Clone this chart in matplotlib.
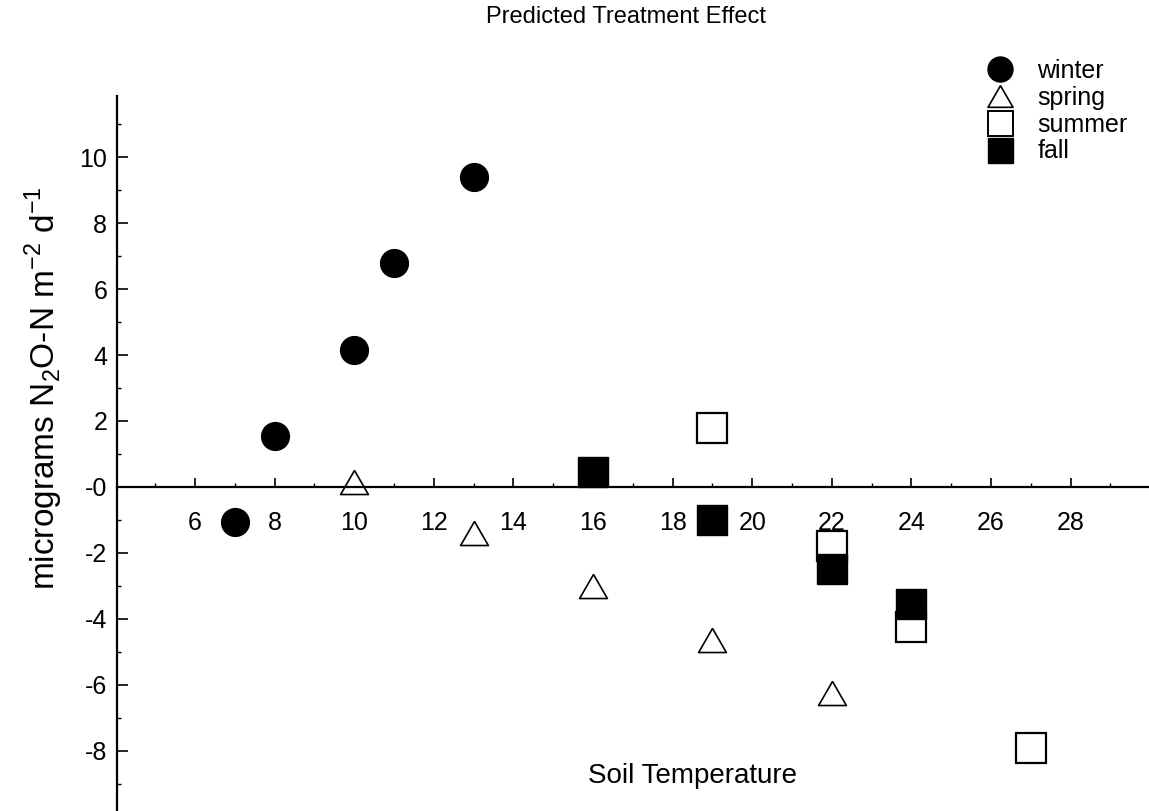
# predicted treatment effect vs soil temperature, by season

import matplotlib.pyplot as plt
from matplotlib.lines import Line2D
from matplotlib.ticker import MultipleLocator

plt.rcParams['font.family'] = ['Liberation Sans', 'DejaVu Sans']

# Values
winter_temp = [7, 8, 10, 11, 13]
winter_effect = [-1.05, 1.55, 4.15, 6.8, 9.4]

spring_temp = [10, 13, 16, 19, 22]
spring_effect = [0.15, -1.4, -3.0, -4.65, -6.25]

summer_temp = [19, 22, 24, 27]
summer_effect = [1.8, -1.8, -4.25, -7.9]

fall_temp = [16, 19, 22, 24]
fall_effect = [0.45, -1.0, -2.5, -3.55]

x_ticks = [6, 8, 10, 12, 14, 16, 18, 20, 22, 24, 26, 28]
y_ticks = [-8, -6, -4, -2, 0, 2, 4, 6, 8, 10]
y_tick_labels = ['-8', '-6', '-4', '-2', '-0', '2', '4', '6', '8', '10']

W, H = 1149, 811
fig = plt.figure(figsize=(W / 100, H / 100), dpi=100)
ax = fig.add_axes([117 / W, 0, 1 - 117 / W, 1 - 96 / H])

# open triangle, a bit flatter than matplotlib's default
tri = [(0, 0.866), (-1, -0.866), (1, -0.866), (0, 0.866)]

ax.plot(winter_temp, winter_effect, 'o', ms=20, color='black', label='winter')
ax.plot(spring_temp, spring_effect, marker=tri, ls='none', ms=20,
        mfc='white', mec='black', mew=1.2, label='spring')
ax.plot(summer_temp, summer_effect, 's', ms=21, mfc='white', mec='black',
        mew=1.6, label='summer')
ax.plot(fall_temp, fall_effect, 's', ms=21, color='black', label='fall')

ax.set_xlim(4.04, 29.97)
ax.set_ylim(-9.82, 11.85)

ax.spines['top'].set_visible(False)
ax.spines['right'].set_visible(False)
ax.spines['bottom'].set_position(('data', 0))
ax.spines['left'].set_linewidth(1.6)
ax.spines['bottom'].set_linewidth(1.6)

ax.set_xticks(x_ticks)
ax.xaxis.set_minor_locator(MultipleLocator(1))
ax.set_yticks(y_ticks)
ax.set_yticklabels(y_tick_labels)
ax.yaxis.set_minor_locator(MultipleLocator(1))

ax.tick_params(axis='x', which='major', direction='in', length=6.5, width=1.2,
               labelsize=18, pad=17)
ax.tick_params(axis='x', which='minor', direction='in', length=3, width=1)
ax.tick_params(axis='y', which='major', direction='in', length=8, width=1.2,
               labelsize=18, pad=7)
ax.tick_params(axis='y', which='minor', direction='in', length=3, width=1)

fig.text(626 / W, 1 - 17 / H, 'Predicted Treatment Effect', fontsize=17,
         ha='center', va='center')
fig.text(692 / W, 1 - 776 / H, 'Soil Temperature', fontsize=20,
         ha='center', va='center')
fig.text(44 / W, 1 - 388 / H,
         r'micrograms N$_\mathregular{2}$O-N m$^\mathregular{-2}$ d$^\mathregular{-1}$',
         fontsize=24, rotation=90, ha='center', va='center')

handles = [
    Line2D([], [], marker='o', ls='none', ms=18, color='black'),
    Line2D([], [], marker=tri, ls='none', ms=18, mfc='white', mec='black', mew=1.2),
    Line2D([], [], marker='s', ls='none', ms=18, mfc='white', mec='black', mew=1.4),
    Line2D([], [], marker='s', ls='none', ms=18, color='black'),
]
fig.legend(handles, ['winter', 'spring', 'summer', 'fall'], loc='upper left',
           bbox_to_anchor=(969 / W, 1 - 46 / H), frameon=False, fontsize=18,
           borderpad=0, handlelength=1.5, handletextpad=0.74, labelspacing=0.12)

plt.savefig('out.png', dpi=100)
